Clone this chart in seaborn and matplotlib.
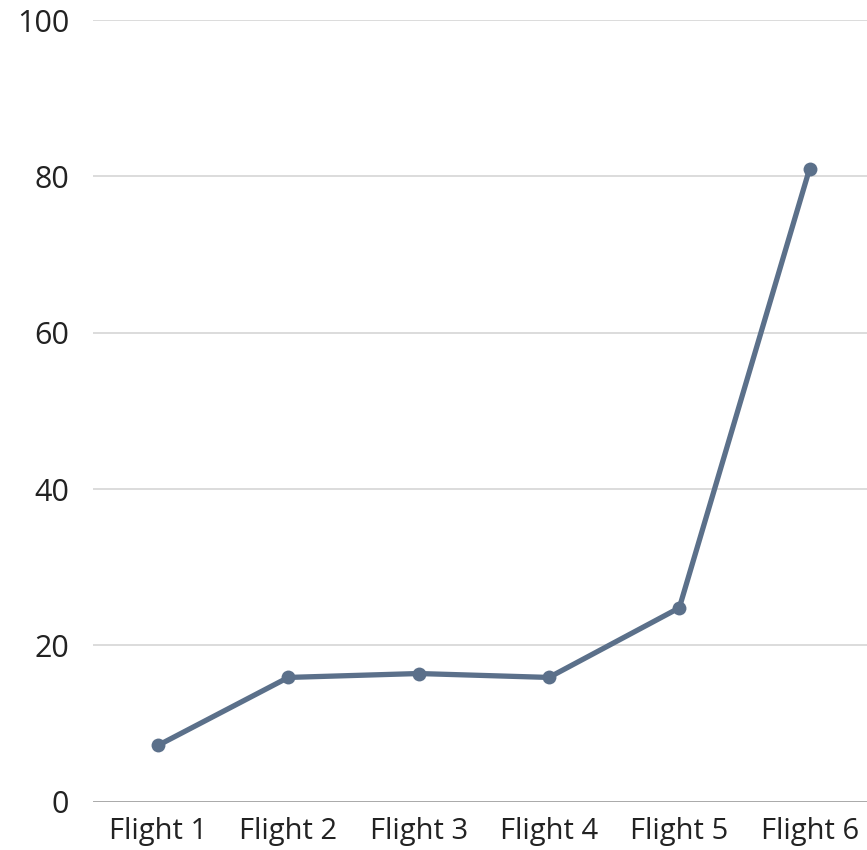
import matplotlib
matplotlib.use("Agg")
import matplotlib.pyplot as plt
import seaborn as sns
import pandas as pd

flights = ["Flight 1", "Flight 2", "Flight 3", "Flight 4", "Flight 5", "Flight 6"]
values = [7.2, 15.9, 16.4, 15.9, 24.8, 81.0]
y_ticks = [0, 20, 40, 60, 80, 100]

sns.set_theme(style="white")
plt.rcParams["font.family"] = ["Open Sans", "DejaVu Sans"]

df = pd.DataFrame({"flight": flights, "value": values})

fig = plt.figure(figsize=(8.67, 8.5), dpi=100)
ax = fig.add_axes([0.107, 0.0568, 0.902, 0.9196])

sns.lineplot(data=df, x="flight", y="value", ax=ax, color="#5b708a",
             linewidth=3.8, marker="o", markersize=10, markeredgewidth=0,
             sort=False, zorder=3)

ax.set_xlim(-0.5, len(flights) - 0.5)
ax.set_ylim(0, 100)
ax.set_yticks(y_ticks)
ax.set_yticklabels([str(t) for t in y_ticks])
ax.grid(axis="y", color="#d9d9d9", linewidth=1.3)
ax.grid(axis="x", visible=False)
ax.axhline(0, color="#a6a6a6", linewidth=2, zorder=2)
for s in ax.spines.values():
    s.set_visible(False)
ax.tick_params(axis="y", length=0, pad=17, labelsize=22, labelcolor="#222222")
ax.tick_params(axis="x", length=0, pad=11, labelsize=21, labelcolor="#222222")
ax.set_xlabel("")
ax.set_ylabel("")

fig.savefig("out.png", dpi=100)
